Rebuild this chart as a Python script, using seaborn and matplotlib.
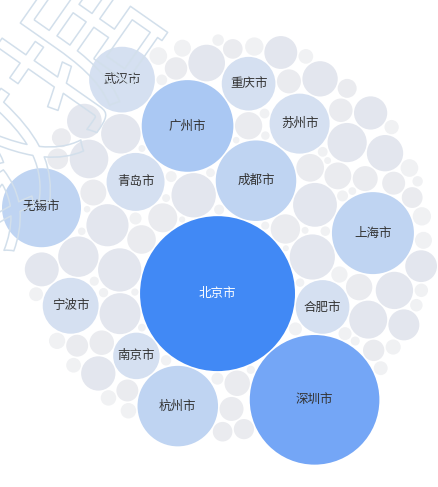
import numpy as np
import pandas as pd
import matplotlib
matplotlib.use("Agg")
import matplotlib.pyplot as plt
import matplotlib.patheffects as pe
import seaborn as sns

# ---------------- data ----------------
cities = ["北京市", "深圳市", "合肥市", "成都市", "广州市", "青岛市", "上海市",
          "苏州市", "南京市", "重庆市", "杭州市", "宁波市", "无锡市", "武汉市"]
city_values = [100, 70, 12, 27, 35, 14, 28, 15, 9, 12, 27, 13, 26, 18]

other_medium = [8.5, 8.2, 8.0, 7.8, 7.4, 7.0, 6.8, 6.5, 6.4, 6.2, 6.0, 5.8,
                5.6, 5.5, 5.2, 5.0, 4.9, 4.8, 4.6, 4.5, 4.2, 4.0]
other_small = [3.6, 3.5, 3.4, 3.2, 3.1, 3.0, 2.9, 2.8, 2.7, 2.6, 2.5, 2.4,
               2.4, 2.3, 2.2, 2.1, 2.0, 2.0, 1.9, 1.8, 1.8, 1.7, 1.6, 1.6,
               1.5, 1.5, 1.4, 1.4, 1.3, 1.3, 1.2, 1.2, 1.1, 1.1, 1.0, 1.0,
               0.95, 0.9, 0.9, 0.85, 0.8, 0.8, 0.75, 0.7, 0.7, 0.65, 0.6, 0.6]
other_tiny = [0.55, 0.5, 0.5, 0.48, 0.45, 0.45, 0.42, 0.4, 0.4, 0.38, 0.36,
              0.35, 0.34, 0.32, 0.3, 0.3, 0.28, 0.27, 0.26, 0.25, 0.25, 0.24,
              0.22, 0.2, 0.2, 0.2, 0.18, 0.18, 0.16, 0.15]

# ---------------- layout (greedy circle packing) ----------------
K = 7.9      # radius scale: px per sqrt(value)
PAD = 1.6    # white gap between bubbles (px)

labels, values = list(cities[:2]), list(city_values[:2])
rest_c = list(zip(cities[2:], city_values[2:]))
med = list(other_medium)
small = list(other_small)
while rest_c or med:
    if rest_c:
        c, v = rest_c.pop(0); labels.append(c); values.append(v)
    if med:
        labels.append(""); values.append(med.pop(0))
    if small:
        labels.append(""); values.append(small.pop(0))
for v in small + other_tiny:
    labels.append(""); values.append(v)

vals = np.array(values, float)
rad = K * np.sqrt(vals)


def pack(r, angle, tx, ty):
    n = len(r)
    pos = np.zeros((n, 2))
    d = r[0] + r[1] + PAD
    pos[1] = (d * np.cos(angle), d * np.sin(angle))
    for k in range(2, n):
        P, R, rk = pos[:k], r[:k], r[k]
        i, j = np.triu_indices(k, 1)
        a = R[i] + rk + PAD
        b = R[j] + rk + PAD
        dv = P[j] - P[i]
        dd = np.hypot(dv[:, 0], dv[:, 1])
        ok = (dd < a + b) & (dd > np.abs(a - b)) & (dd > 0)
        i, j, a, b, dv, dd = i[ok], j[ok], a[ok], b[ok], dv[ok], dd[ok]
        x = (a ** 2 - b ** 2 + dd ** 2) / (2 * dd)
        h = np.sqrt(np.maximum(a ** 2 - x ** 2, 0))
        u = dv / dd[:, None]
        base = P[i] + u * x[:, None]
        perp = np.stack([-u[:, 1], u[:, 0]], 1)
        cand = np.vstack([base + perp * h[:, None], base - perp * h[:, None]])
        diff = cand[:, None, :] - P[None, :, :]
        dist = np.sqrt((diff ** 2).sum(-1))
        valid = np.all(dist >= R[None, :] + rk + PAD - 1e-6, axis=1)
        cand = cand[valid]
        dc = np.hypot(cand[:, 0] - tx, cand[:, 1] - ty)
        pos[k] = cand[np.argmin(dc)]
    return pos


pos = pack(rad, np.arctan2(116, 106), 10, -55)

W, H = 439, 487
x0 = (pos[:, 0] - rad).min(); x1 = (pos[:, 0] + rad).max()
y0 = (pos[:, 1] - rad).min(); y1 = (pos[:, 1] + rad).max()
s = min((W - 4) / (x1 - x0), (H - 8) / (y1 - y0))
px = (pos[:, 0] - (x0 + x1) / 2) * s + W / 2
py = (pos[:, 1] - (y0 + y1) / 2) * s + H / 2 + 6


def tier(v, lab):
    if v >= 90: return "t1"
    if v >= 50: return "t2"
    if v >= 32: return "t3"
    if v >= 20: return "t4"
    if lab: return "t5"
    if v >= 4: return "t6"
    if v >= 1.5: return "t7"
    return "t8"


palette = {"t1": "#4189f5", "t2": "#74a6f6", "t3": "#aac8f3", "t4": "#bfd4f2",
           "t5": "#d5e0f1", "t6": "#e3e6ee", "t7": "#eaebef", "t8": "#f0f1f3"}

df = pd.DataFrame({"x": px, "y": py, "value": vals, "label": labels,
                   "tier": [tier(v, l) for v, l in zip(vals, labels)]})

# ---------------- plot ----------------
sns.set_theme(style="white")
plt.rcParams["font.family"] = ["Noto Sans CJK SC", "DejaVu Sans"]

fig = plt.figure(figsize=(W / 100, H / 100), dpi=100)
ax = fig.add_axes([0, 0, 1, 1])
vmax = vals.max()
smax = (2 * K * s * 0.72) ** 2 * vmax
sns.scatterplot(data=df, x="x", y="y", size="value", sizes=(0, smax),
                size_norm=(0, vmax), hue="tier", palette=palette,
                linewidth=0, alpha=1, legend=False, ax=ax, zorder=2)

for _, r in df[df["label"] != ""].iterrows():
    ax.text(r["x"], r["y"], r["label"], ha="center", va="center", fontsize=9,
            color="white" if r["value"] >= 90 else "#333333", zorder=4)

wm = ax.text(48, 112, "数据", fontsize=104, rotation=55, ha="center",
             va="center", color=(1, 1, 1, 0), zorder=5)
wm.set_path_effects([pe.Stroke(linewidth=1.1, foreground="#d2dfeb")])

ax.set_xlim(0, W)
ax.set_ylim(H, 0)
ax.axis("off")
fig.savefig("out.png", dpi=100)
